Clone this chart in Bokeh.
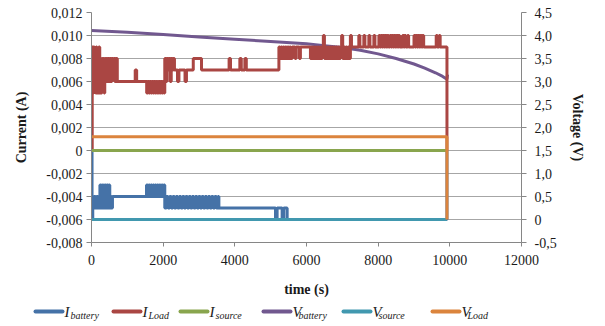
from bokeh.plotting import figure
from bokeh.models import Range1d, LinearAxis, FixedTicker
from bokeh.layouts import column
from bokeh.core.properties import value
from bokeh.embed import file_html
from bokeh.resources import INLINE

# ---------------- data ----------------
x_ticks = [0, 2000, 4000, 6000, 8000, 10000, 12000]
x_tick_labels = ["0", "2000", "4000", "6000", "8000", "10000", "12000"]
i_ticks = [-0.008, -0.006, -0.004, -0.002, 0.0, 0.002, 0.004, 0.006, 0.008, 0.010, 0.012]
i_tick_labels = ["-0,008", "-0,006", "-0,004", "-0,002", "0", "0,002", "0,004", "0,006", "0,008", "0,010", "0,012"]
v_ticks = [-0.5, 0.0, 0.5, 1.0, 1.5, 2.0, 2.5, 3.0, 3.5, 4.0, 4.5]
v_tick_labels = ["-0,5", "0", "0,5", "1,0", "1,5", "2,0", "2,5", "3,0", "3,5", "4,0", "4,5"]

series_names = ["battery", "Load", "source", "battery", "source", "Load"]
series_letters = ["I", "I", "I", "V", "V", "V"]
series_colors = ["#4572A7", "#AA4643", "#89A54E", "#71588F", "#4198AF", "#DB843D"]

# I_battery (A), step samples (time s, value)
i_battery = [
    (0, 0.0), (15, -0.006), (35, -0.004), (55, -0.005), (75, -0.004), (95, -0.005), (115, -0.004),
    (135, -0.005), (155, -0.004), (175, -0.005), (195, -0.004), (215, -0.005), (235, -0.003),
    (260, -0.005), (285, -0.003), (310, -0.005), (335, -0.003), (360, -0.005), (385, -0.003),
    (410, -0.005), (435, -0.003), (460, -0.005), (485, -0.003), (510, -0.005), (535, -0.004),
    (560, -0.005), (585, -0.004),
    (1535, -0.003), (1565, -0.004), (1595, -0.003), (1625, -0.004), (1655, -0.003), (1685, -0.004),
    (1715, -0.003), (1745, -0.004), (1775, -0.003), (1805, -0.004), (1835, -0.003), (1865, -0.004),
    (1895, -0.003), (1925, -0.004), (1955, -0.003), (1985, -0.004), (2015, -0.003),
    (2045, -0.005), (2090, -0.004), (2135, -0.005), (2180, -0.004), (2225, -0.005), (2270, -0.004),
    (2315, -0.005), (2360, -0.004), (2405, -0.005), (2450, -0.004), (2495, -0.005), (2540, -0.004),
    (2585, -0.005), (2630, -0.004), (2675, -0.005), (2720, -0.004), (2765, -0.005), (2810, -0.004),
    (2855, -0.005), (2900, -0.004), (2945, -0.005), (2990, -0.004), (3035, -0.005), (3080, -0.004),
    (3125, -0.005), (3170, -0.004), (3215, -0.005), (3260, -0.004), (3305, -0.005), (3350, -0.004),
    (3395, -0.005), (3440, -0.004), (3485, -0.005), (3530, -0.004), (3555, -0.005),
    (5135, -0.006), (5180, -0.005), (5320, -0.006), (5365, -0.005), (5460, -0.006), (9920, 0.0),
]

# I_Load (A), step samples (time s, value)
i_load = [
    (0, 0.0), (20, 0.009), (45, 0.005), (60, 0.009), (80, 0.006), (95, 0.008), (115, 0.005),
    (130, 0.009), (150, 0.005), (170, 0.008), (190, 0.005), (205, 0.009), (230, 0.005),
    (250, 0.008), (270, 0.005), (290, 0.008), (310, 0.006), (330, 0.008), (350, 0.005),
    (370, 0.008), (390, 0.006), (420, 0.008), (440, 0.006), (470, 0.008), (490, 0.006),
    (520, 0.008), (540, 0.006), (570, 0.008), (600, 0.007), (620, 0.008), (650, 0.006),
    (680, 0.008), (720, 0.006), (1220, 0.007), (1260, 0.006),
    (1540, 0.005), (1570, 0.006), (1600, 0.005), (1630, 0.006), (1660, 0.005), (1690, 0.006),
    (1720, 0.005), (1750, 0.006), (1780, 0.005), (1810, 0.006), (1840, 0.005), (1870, 0.006),
    (1900, 0.005), (1930, 0.006), (1960, 0.005), (1990, 0.006), (2020, 0.005),
    (2045, 0.008), (2075, 0.006), (2105, 0.008), (2135, 0.007), (2165, 0.008), (2195, 0.006),
    (2225, 0.008), (2255, 0.007), (2285, 0.008), (2315, 0.007), (2400, 0.006), (2440, 0.007),
    (2610, 0.006), (2650, 0.007), (2840, 0.008), (3070, 0.007), (3840, 0.008), (3880, 0.007),
    (4140, 0.008), (4180, 0.007), (4280, 0.008), (4320, 0.007),
    (5230, 0.009), (5260, 0.008), (5290, 0.009), (5320, 0.008), (5350, 0.009), (5380, 0.008),
    (5410, 0.009), (5440, 0.008), (5470, 0.009), (5500, 0.008), (5530, 0.009), (5560, 0.008),
    (5600, 0.009), (5680, 0.008), (5710, 0.009), (5800, 0.008), (5830, 0.009),
    (6110, 0.008), (6140, 0.009), (6170, 0.008), (6200, 0.009), (6230, 0.008), (6260, 0.009),
    (6290, 0.008), (6320, 0.009), (6350, 0.008), (6380, 0.009), (6410, 0.008), (6440, 0.009),
    (6470, 0.010), (6500, 0.008), (6530, 0.009), (6560, 0.008), (6590, 0.009), (6620, 0.008),
    (6650, 0.009), (6680, 0.008), (6710, 0.009), (6740, 0.008), (6770, 0.009), (6800, 0.008),
    (6830, 0.009), (6860, 0.008), (6890, 0.009), (6920, 0.008), (6950, 0.009), (6980, 0.010),
    (7010, 0.008), (7040, 0.009), (7070, 0.008), (7100, 0.009), (7130, 0.008), (7160, 0.009),
    (7190, 0.008), (7225, 0.010), (7255, 0.009),
    (7460, 0.010), (7490, 0.009), (7600, 0.010), (7630, 0.009), (7740, 0.010), (7770, 0.009),
    (7880, 0.010), (7910, 0.009), (8020, 0.010), (8050, 0.009), (8080, 0.010), (8110, 0.009),
    (8140, 0.010), (8170, 0.009), (8200, 0.010), (8230, 0.009), (8260, 0.010), (8290, 0.009),
    (8330, 0.010), (8360, 0.009), (8390, 0.010), (8420, 0.009), (8450, 0.010), (8480, 0.009),
    (8510, 0.010), (8540, 0.009), (8570, 0.010), (8600, 0.009), (8680, 0.010), (8710, 0.009),
    (8740, 0.010), (8770, 0.009), (8820, 0.010), (8850, 0.009), (9000, 0.010), (9030, 0.009),
    (9060, 0.010), (9090, 0.009), (9120, 0.010), (9150, 0.009), (9180, 0.010), (9210, 0.009),
    (9240, 0.010), (9270, 0.009), (9620, 0.010), (9650, 0.009), (9700, 0.010), (9730, 0.009),
    (9920, 0.0),
]

# I_source (A)
i_source_t = [0, 9920]
i_source_v = [0.0, 0.0]

# V_battery (V)
v_battery_t = [0, 1000, 2000, 3000, 4000, 5000, 6000, 6500, 7000, 7500, 8000, 8500, 9000, 9300, 9600, 9800, 9920, 9935]
v_battery_v = [4.11, 4.07, 4.02, 3.97, 3.92, 3.87, 3.82, 3.78, 3.74, 3.68, 3.60, 3.50, 3.38, 3.29, 3.19, 3.11, 3.05, 3.15]

# V_source (V)
v_source_t = [0, 9920]
v_source_v = [0.0, 0.0]

# V_Load (V), step
v_load_t = [0, 9920]
v_load_v = [1.8, 0.0]

# ---------------- styling ----------------
FONT = "Liberation Serif"
GRID = "#a6a6a6"
AXIS = "#868686"
LW = 3

p = figure(width=605, height=300, x_range=Range1d(0, 12000), y_range=Range1d(-0.008, 0.012),
           output_backend="svg", toolbar_location=None,
           min_border_left=91, min_border_right=84, min_border_top=12, min_border_bottom=58)
p.extra_y_ranges = {"v": Range1d(-0.5, 4.5)}
p.outline_line_color = None
p.xgrid.visible = False
p.ygrid.ticker = FixedTicker(ticks=i_ticks)
p.ygrid.grid_line_color = GRID
p.ygrid.grid_line_width = 1


def style_axis(ax):
    ax.axis_line_color = AXIS
    ax.major_tick_line_color = AXIS
    ax.minor_tick_line_color = None
    ax.major_tick_in = 0
    ax.major_tick_out = 5
    ax.major_label_text_font = FONT
    ax.major_label_text_font_size = "14px"
    ax.major_label_text_color = "#1a1a1a"
    ax.axis_label_text_font = FONT
    ax.axis_label_text_font_size = "14px"
    ax.axis_label_text_font_style = "bold"
    ax.axis_label_text_color = "#1a1a1a"


xa = p.xaxis[0]
xa.ticker = FixedTicker(ticks=x_ticks)
xa.major_label_overrides = dict(zip(x_ticks, x_tick_labels))
xa.axis_label = "time (s)"
style_axis(xa)
xa.major_tick_out = 4
xa.major_label_standoff = 8
xa.axis_label_standoff = 14

ya = p.yaxis[0]
ya.ticker = FixedTicker(ticks=i_ticks)
ya.major_label_overrides = dict(zip(i_ticks, i_tick_labels))
ya.axis_label = "Current (A)"
style_axis(ya)
ya.major_label_standoff = 4
ya.axis_label_standoff = 14

ra = LinearAxis(y_range_name="v", ticker=FixedTicker(ticks=v_ticks))
ra.major_label_overrides = dict(zip(v_ticks, v_tick_labels))
ra.axis_label = "Voltage (V)"
style_axis(ra)
ra.major_label_standoff = 8
ra.axis_label_standoff = 10
p.add_layout(ra, "right")

# draw series
p.line(v_battery_t, v_battery_v, y_range_name="v", color=series_colors[3], line_width=LW)
p.step([t for t, _ in i_battery], [v for _, v in i_battery], mode="after",
       color=series_colors[0], line_width=LW)
p.step([t for t, _ in i_load], [v for _, v in i_load], mode="after",
       color=series_colors[1], line_width=LW)
p.line(i_source_t, i_source_v, color=series_colors[2], line_width=LW)
p.line(v_source_t, v_source_v, y_range_name="v", color=series_colors[4], line_width=LW)
p.step(v_load_t, v_load_v, mode="after", y_range_name="v", color=series_colors[5], line_width=LW)

# ---------------- legend (separate strip, page-pixel coordinates) ----------------
leg_x = [35, 113, 180, 263, 343, 432]   # layout positions (px)
leg_y = 13
lg = figure(width=605, height=24, x_range=Range1d(0, 605), y_range=Range1d(0, 24),
            output_backend="svg", toolbar_location=None, min_border=0)
lg.frame_align = False
lg.axis.visible = False
lg.grid.visible = False
lg.outline_line_color = None
lg.segment(x0=leg_x, y0=[leg_y] * 6, x1=[x + 27 for x in leg_x], y1=[leg_y] * 6,
           color=series_colors, line_width=4, line_cap="round")
lg.text(x=[x + 29 for x in leg_x], y=[leg_y] * 6, text=series_letters,
        text_font=value(FONT), text_font_style="italic", text_font_size="15px",
        text_baseline="middle", text_color="#1a1a1a")
lg.text(x=[x + 35 for x in leg_x], y=[leg_y - 4] * 6, text=series_names,
        text_font=value(FONT), text_font_style="italic", text_font_size="10px",
        text_baseline="middle", text_color="#1a1a1a")

layout = column(p, lg, spacing=0)
open("out.html", "w").write(file_html(layout, INLINE))
